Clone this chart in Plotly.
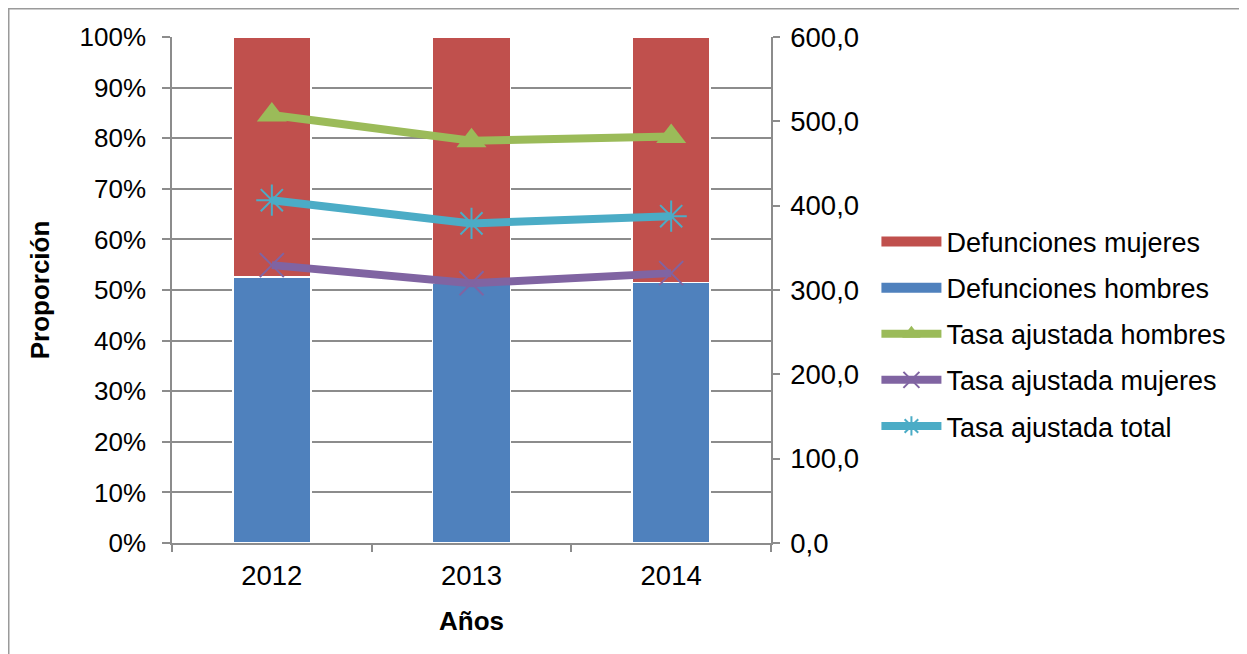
import plotly.graph_objects as go

years = ["2012", "2013", "2014"]
def_hombres = [0.526, 0.513, 0.515]
def_mujeres = [0.474, 0.487, 0.485]
tasa_hombres = [507.5, 477.0, 482.0]
tasa_mujeres = [329.5, 308.0, 320.0]
tasa_total = [406.5, 379.0, 387.5]

left_ticks = [i / 10 for i in range(11)]
right_ticks = [0, 100, 200, 300, 400, 500, 600]

RED = "#C0504D"
BLUE = "#4F81BD"
GREEN = "#9BBB59"
PURPLE = "#8064A2"
CYAN = "#4BACC6"
GRID = "#8C8C8C"
FONT = "Liberation Sans, Arial, sans-serif"

# page has an 8px body margin; figure origin sits at page (8, 8)
W, H = 1255, 646
L, T, PW, PH = 164, 29, 599, 506

fig = go.Figure()
fig.add_trace(go.Bar(x=years, y=def_hombres, name="Defunciones hombres",
                     marker=dict(color=BLUE, line=dict(color="white", width=1.5)),
                     showlegend=False, yaxis="y"))
fig.add_trace(go.Bar(x=years, y=def_mujeres, name="Defunciones mujeres",
                     marker=dict(color=RED, line=dict(color="white", width=1.5)),
                     showlegend=False, yaxis="y"))
# legend entries for the bars (wide rectangles like the original)
fig.add_trace(go.Scatter(x=[None], y=[None], name="Defunciones mujeres", mode="lines",
                         line=dict(color=RED, width=14), legendgroup="a", yaxis="y"))
fig.add_trace(go.Scatter(x=[None], y=[None], name="Defunciones hombres", mode="lines",
                         line=dict(color=BLUE, width=14), legendgroup="b", yaxis="y"))
fig.add_trace(go.Scatter(x=years, y=tasa_hombres, name="Tasa ajustada hombres",
                         mode="lines+markers", yaxis="y2", legendgroup="c",
                         line=dict(color=GREEN, width=8),
                         marker=dict(symbol="triangle-up", size=26, color=GREEN)))
fig.add_trace(go.Scatter(x=years, y=tasa_mujeres, name="Tasa ajustada mujeres",
                         mode="lines+markers", yaxis="y2", legendgroup="d",
                         line=dict(color=PURPLE, width=8),
                         marker=dict(symbol="x-thin-open", size=24, color=PURPLE,
                                     line=dict(color=PURPLE, width=2))))
fig.add_trace(go.Scatter(x=years, y=tasa_total, name="Tasa ajustada total",
                         mode="lines+markers", yaxis="y2", legendgroup="e",
                         line=dict(color=CYAN, width=8),
                         marker=dict(symbol="asterisk-open", size=26, color=CYAN,
                                     line=dict(color=CYAN, width=2))))

fig.update_layout(
    width=W, height=H,
    margin=dict(l=L, r=W - L - PW, t=T, b=H - T - PH, autoexpand=False),
    paper_bgcolor="white", plot_bgcolor="white",
    barmode="stack", bargap=0.61,
    separators=",.",
    font=dict(family=FONT, size=26, color="black"),
    xaxis=dict(
        type="category", showline=True, linecolor=GRID, linewidth=1.5,
        ticks="outside", tickson="boundaries", ticklen=7, tickcolor=GRID,
        tickwidth=1.5, showgrid=False, automargin=False,
        ticklabelstandoff=7,
        tickfont=dict(size=27.5),
        title=dict(text="<b>Años</b>", font=dict(size=26), standoff=22),
    ),
    yaxis=dict(
        range=[0, 1], tickvals=left_ticks, tickformat=".0%",
        showline=True, linecolor=GRID, linewidth=1.5,
        ticks="outside", ticklen=8, tickcolor=GRID, tickwidth=1.5,
        showgrid=True, gridcolor=GRID, gridwidth=1.5, zeroline=False,
        ticklabelstandoff=11, automargin=False,
        tickfont=dict(size=26),
        title=dict(text="<b>Proporción</b>", font=dict(size=26), standoff=22),
    ),
    yaxis2=dict(
        range=[0, 600], tickvals=right_ticks, tickformat=".1f",
        overlaying="y", side="right",
        showline=True, linecolor=GRID, linewidth=1.5,
        ticks="outside", ticklen=7, tickcolor=GRID, tickwidth=1.5,
        showgrid=False, zeroline=False, ticklabelstandoff=5, automargin=False,
        tickfont=dict(size=27.5),
    ),
    legend=dict(
        x=1.176, y=0.413, xanchor="left", yanchor="middle",
        font=dict(size=27), tracegroupgap=8, itemwidth=60,
        traceorder="grouped",
        bgcolor="rgba(0,0,0,0)",
    ),
    shapes=[
        dict(type="line", xref="paper", yref="paper",
             x0=(0 - L) / PW, x1=(W + 20 - L) / PW,
             y0=(T + PH - 0.5) / PH, y1=(T + PH - 0.5) / PH,
             line=dict(color="#9A9A9A", width=2)),
        dict(type="line", xref="paper", yref="paper",
             x0=(0.5 - L) / PW, x1=(0.5 - L) / PW,
             y0=(T + PH) / PH, y1=(T + PH - H - 20) / PH,
             line=dict(color="#9A9A9A", width=2)),
    ],
)

fig.write_html("out.html")
